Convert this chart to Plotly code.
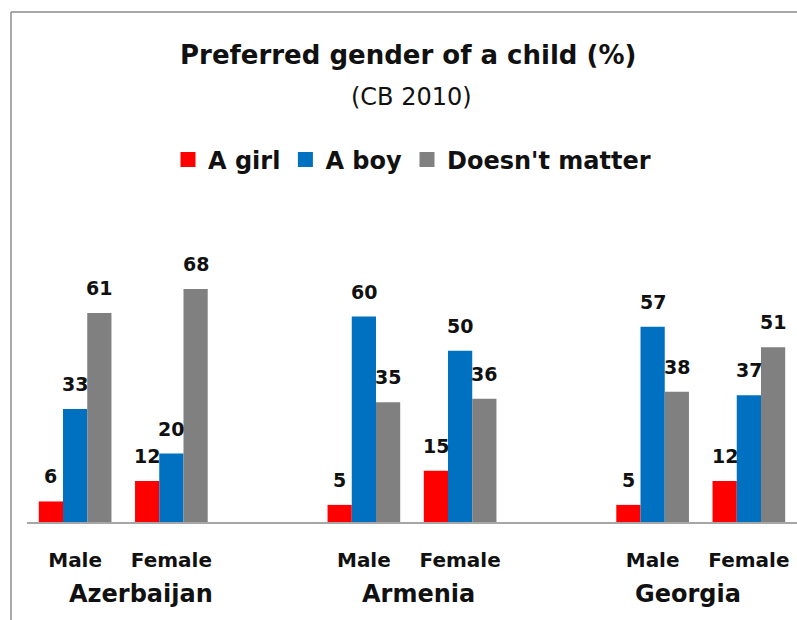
import plotly.graph_objects as go

countries = ["Azerbaijan", "Armenia", "Georgia"]
genders = ["Male", "Female"]
series_names = ["A girl", "A boy", "Doesn't matter"]
colors = ["#FF0000", "#0070C0", "#808080"]
girl = [6, 12, 5, 15, 5, 12]
boy = [33, 20, 60, 50, 57, 37]
nomatter = [61, 68, 35, 36, 38, 51]
series_values = [girl, boy, nomatter]

# category slots: a blank slot between countries
positions = [0, 1, 3, 4, 6, 7]
tick_labels = ["Male", "Female"] * 3
country_pos = [0.68, 3.57, 6.37]

W, H = 797, 620
ML, MR, MT, MB = 27, 0, 248, 98
PW, PH = W - ML - MR, H - MT - MB

def px_x(x):
    return (x - ML) / PW

def px_y(y):
    return (H - MB - y) / PH

FONT = "'DejaVu Sans', sans-serif"
TXT = "#111111"
BARGAP = 0.245

fig = go.Figure()
for name, vals, col in zip(series_names, series_values, colors):
    fig.add_trace(go.Bar(
        x=positions, y=vals, name=name, showlegend=False,
        marker=dict(color=col, line=dict(width=0)),
    ))
# legend entries with larger square swatches
for name, col in zip(series_names, colors):
    fig.add_trace(go.Scatter(
        x=[None], y=[None], name=f"<b>{name}</b>", mode="markers",
        marker=dict(symbol="square", size=15, color=col),
    ))

# data labels above bars
bw = (1 - BARGAP) / 3
annotations = []
for i, vals in enumerate(series_values):
    off = (i - 1) * bw
    for p, v in zip(positions, vals):
        annotations.append(dict(
            x=p + off, y=v, xref="x", yref="y", text=f"<b>{v}</b>",
            showarrow=False, yanchor="middle", yshift=25,
            font=dict(family=FONT, size=19, color=TXT),
        ))

for c, cp in zip(countries, country_pos):
    annotations.append(dict(
        x=cp, y=px_y(594), xref="x", yref="paper", text=f"<b>{c}</b>",
        showarrow=False, yanchor="middle",
        font=dict(family=FONT, size=24, color=TXT),
    ))

annotations.append(dict(
    x=px_x(408), y=px_y(55), xref="paper", yref="paper",
    text="<b>Preferred gender of a child (%)</b>", showarrow=False,
    xanchor="center", yanchor="middle",
    font=dict(family=FONT, size=26, color=TXT),
))
annotations.append(dict(
    x=px_x(411), y=px_y(97), xref="paper", yref="paper",
    text="(CB 2010)", showarrow=False,
    xanchor="center", yanchor="middle",
    font=dict(family=FONT, size=24, color=TXT),
))

shapes = [
    dict(type="line", xref="paper", yref="paper",
         x0=px_x(11), x1=px_x(11), y0=px_y(12), y1=px_y(625),
         line=dict(color="#8C8C8C", width=1.5)),
    dict(type="line", xref="paper", yref="paper",
         x0=px_x(11), x1=px_x(800), y0=px_y(12), y1=px_y(12),
         line=dict(color="#8C8C8C", width=1.5)),
]

fig.update_layout(
    width=W, height=H,
    margin=dict(l=ML, r=MR, t=MT, b=MB),
    paper_bgcolor="white", plot_bgcolor="white",
    barmode="group", bargap=BARGAP, bargroupgap=0,
    showlegend=True,
    legend=dict(orientation="h", x=px_x(412), xanchor="center",
                y=px_y(160), yanchor="middle",
                font=dict(family=FONT, size=24, color=TXT),
                itemwidth=30, itemsizing="trace",
                bgcolor="rgba(0,0,0,0)"),
    annotations=annotations,
    shapes=shapes,
    xaxis=dict(range=[-0.5, 7.5], tickvals=positions,
               ticktext=[f"<b>{t}</b>" for t in tick_labels],
               tickfont=dict(family=FONT, size=20, color=TXT),
               showline=True, linecolor="#A6A6A6", linewidth=1.5,
               showgrid=False, zeroline=False, ticks="",
               ticklabelstandoff=19, fixedrange=True),
    yaxis=dict(range=[0, 80], visible=False, showgrid=False,
               zeroline=False, fixedrange=True),
)

fig.write_html(
    "out.html",
    config={"displayModeBar": False},
    post_script="document.body.style.margin='0';document.body.style.overflow='hidden';",
)
